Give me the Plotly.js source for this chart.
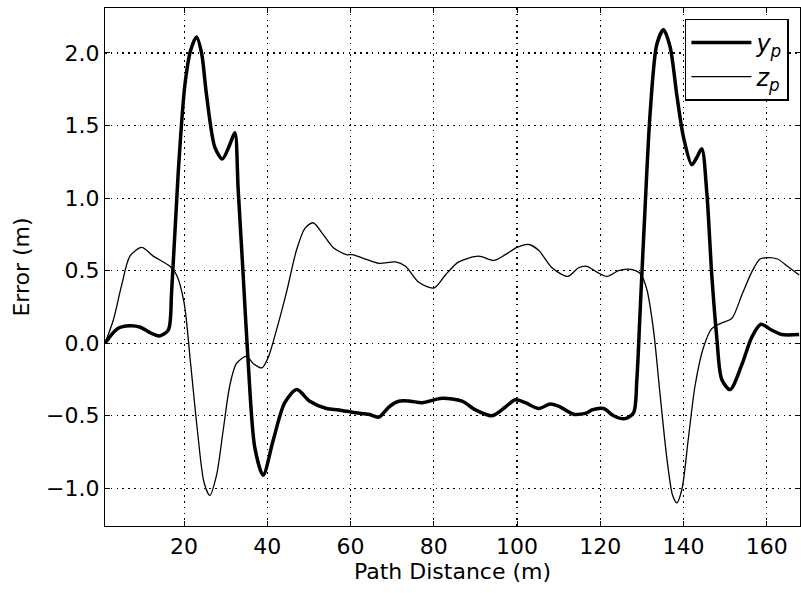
<!DOCTYPE html>
<html><head><meta charset="utf-8">
<script src="https://cdn.plot.ly/plotly-3.0.1.min.js"></script>
<style>html,body{margin:0;padding:0;background:#fff}</style>
</head><body>
<div id="chart" style="width:801px;height:593px"></div>
<script>
const ypX = [1,4,7,9.5,12,14,16.2,17,18.6,20.2,21.6,23,24.2,25.4,27.4,29.2,31,32.2,33,34.2,35.4,37,39,41.4,44.2,47.1,50.2,54.2,57.2,61.2,64.4,66.8,69.2,71.6,74.4,77.2,82,86.8,90,94,97.2,99.6,102,105.2,108,110.4,113.6,116.8,118,120.8,123.2,126,128,128.8,129.6,130.8,132,133.6,135.2,136.8,138.4,140,142,143.2,144.4,145.6,146.8,148,149.2,151.2,154,156.4,158.6,161.2,163.6,167.8];
const ypY = [0.0,0.10,0.12,0.11,0.07,0.05,0.09,0.35,1.18,1.78,2.02,2.11,2.0,1.71,1.35,1.27,1.37,1.45,1.06,0.47,-0.13,-0.72,-0.91,-0.67,-0.41,-0.32,-0.40,-0.45,-0.46,-0.48,-0.49,-0.51,-0.44,-0.40,-0.40,-0.41,-0.38,-0.40,-0.46,-0.50,-0.44,-0.39,-0.41,-0.45,-0.42,-0.44,-0.49,-0.48,-0.46,-0.45,-0.50,-0.52,-0.48,-0.25,0.23,0.95,1.59,2.06,2.16,2.04,1.71,1.42,1.23,1.28,1.34,1.04,0.47,0.04,-0.25,-0.32,-0.15,0.04,0.13,0.09,0.06,0.06];
const zpX = [1,3,5,7,9.8,12.6,16.6,18.2,20,21.6,23.2,24.8,26.2,27.8,29.4,31,32.6,35,36.6,38.7,40.2,42.2,44.6,47,49,51,53.4,55.8,59,60.4,63.6,66.8,70.8,73.2,76.4,80,82.8,86,90.8,94.4,97.2,100,102.8,105.2,108.4,112.2,114.8,116.8,119.2,121.6,124.4,126.8,129.6,131.2,132.8,134.4,136,137.4,138.4,139.6,141.2,142.8,144.8,146.8,149.2,151.6,154,156.4,158.4,160.4,162.6,165,167.8];
const zpY = [0.0,0.16,0.40,0.60,0.66,0.60,0.53,0.47,0.28,-0.15,-0.60,-0.96,-1.05,-0.91,-0.60,-0.29,-0.14,-0.09,-0.14,-0.17,-0.10,0.09,0.35,0.64,0.79,0.83,0.75,0.66,0.61,0.61,0.58,0.55,0.56,0.53,0.42,0.38,0.47,0.56,0.60,0.57,0.61,0.66,0.68,0.64,0.52,0.46,0.52,0.53,0.49,0.46,0.50,0.51,0.48,0.37,0.09,-0.36,-0.79,-1.05,-1.10,-1.01,-0.65,-0.29,-0.03,0.10,0.14,0.17,0.33,0.49,0.58,0.59,0.58,0.53,0.47];
const seriesNames = ['<i>y</i><sub><i>p</i></sub>', '<i>z</i><sub><i>p</i></sub>'];

const traces = [
  {x: ypX, y: ypY, name: seriesNames[0], mode: 'lines', line: {color: '#000', width: 3.5, shape: 'spline', smoothing: 0.8}},
  {x: zpX, y: zpY, name: seriesNames[1], mode: 'lines', line: {color: '#000', width: 1.3, shape: 'spline', smoothing: 0.8}}
];
const FONT = 'DejaVu Sans';
const axisCommon = {
  showline: true, linecolor: '#000', linewidth: 1.2, mirror: 'ticks',
  ticks: 'inside', ticklen: 5, tickcolor: '#000', tickwidth: 1,
  showgrid: true, gridcolor: '#000', griddash: '1.5px,4.3px', gridwidth: 1.1,
  zeroline: false, tickfont: {family: FONT, size: 22, color: '#000'}
};
const layout = {
  width: 801, height: 593,
  margin: {l: 105, r: 1, t: 8, b: 67},
  paper_bgcolor: '#fff', plot_bgcolor: '#fff',
  showlegend: true,
  legend: {x: 0.984, y: 0.979, xanchor: 'right', yanchor: 'top', bordercolor: '#000', borderwidth: 1.5,
           bgcolor: '#fff', itemwidth: 60, tracegroupgap: 0,
           font: {family: FONT, size: 24, color: '#000'}},
  xaxis: Object.assign({}, axisCommon, {range: [1, 168], dtick: 20, tick0: 0,
           title: {text: 'Path Distance (m)', font: {family: FONT, size: 22, color: '#000'}, standoff: 6}}),
  yaxis: Object.assign({}, axisCommon, {range: [-1.26, 2.31], dtick: 0.5, tick0: 0, tickformat: '.1f',
           title: {text: 'Error (m)', font: {family: FONT, size: 22, color: '#000'}, standoff: 10}})
};
Plotly.newPlot('chart', traces, layout, {displayModeBar: false, staticPlot: true});
</script>
</body></html>
